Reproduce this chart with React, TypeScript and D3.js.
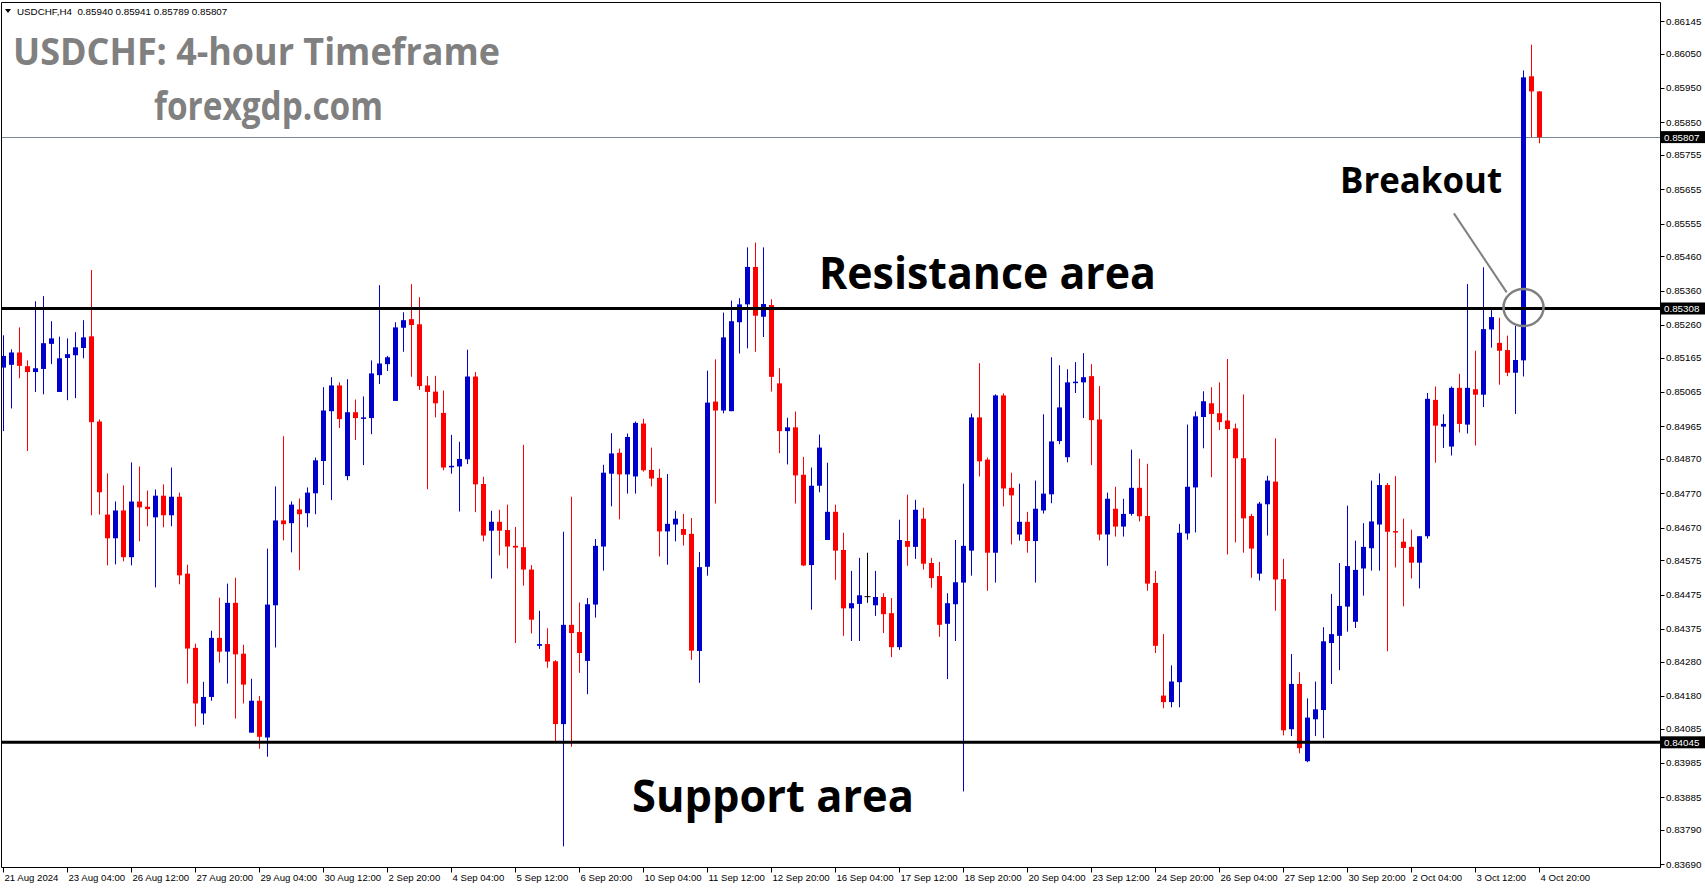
import React from 'react';
import * as d3 from 'd3';

// ---- OHLC data (USDCHF H4) ----
const OPEN = [0.85136,0.85144,0.85180,0.85140,0.85123,0.85132,0.85205,0.85065,0.85164,0.85172,0.85193,0.85227,0.84979,0.84708,0.84639,0.84720,0.84584,0.84746,0.84731,0.84700,0.84763,0.84706,0.84760,0.84536,0.84320,0.84129,0.84177,0.84349,0.84309,0.84451,0.84303,0.84073,0.84166,0.84059,0.84444,0.84691,0.84683,0.84723,0.84712,0.84770,0.84864,0.85009,0.85084,0.84820,0.85006,0.84989,0.84989,0.85114,0.85146,0.85039,0.85252,0.85277,0.85262,0.85084,0.85066,0.85004,0.84846,0.84848,0.84869,0.85110,0.84797,0.84661,0.84687,0.84663,0.84617,0.84613,0.84548,0.84326,0.84331,0.84281,0.84098,0.84387,0.84366,0.84282,0.84446,0.84615,0.84827,0.84888,0.84825,0.84819,0.84973,0.84838,0.84815,0.84659,0.84679,0.84666,0.84652,0.84311,0.84556,0.85037,0.85011,0.85009,0.85268,0.85320,0.85429,0.85284,0.85318,0.85090,0.84951,0.84962,0.84824,0.84561,0.84792,0.84634,0.84716,0.84605,0.84435,0.84448,0.84469,0.84444,0.84468,0.84421,0.84322,0.84631,0.84614,0.84696,0.84567,0.84529,0.84390,0.84447,0.84510,0.84603,0.84991,0.84868,0.84597,0.85055,0.84786,0.84650,0.84687,0.84631,0.84720,0.84767,0.84922,0.84875,0.85091,0.85093,0.85111,0.84985,0.84650,0.84725,0.84673,0.84710,0.84786,0.84704,0.84509,0.84181,0.84162,0.84220,0.84653,0.84787,0.84992,0.85032,0.85003,0.84982,0.84959,0.84872,0.84704,0.84536,0.84738,0.84804,0.84520,0.84083,0.84215,0.83990,0.84112,0.84139,0.84334,0.84355,0.84440,0.84396,0.84551,0.84610,0.84679,0.84794,0.84660,0.84629,0.84614,0.84568,0.84645,0.85042,0.84964,0.84906,0.85077,0.84970,0.85073,0.85057,0.85247,0.85208,0.85187,0.85121,0.85157,0.85984,0.85940];
const HIGH = [0.85230,0.85189,0.85253,0.85157,0.85329,0.85344,0.85271,0.85226,0.85221,0.85239,0.85274,0.85420,0.84985,0.84828,0.84746,0.84793,0.84860,0.84848,0.84778,0.84781,0.84796,0.84845,0.84772,0.84562,0.84332,0.84221,0.84370,0.84466,0.84507,0.84524,0.84329,0.84230,0.84180,0.84609,0.84790,0.84936,0.84746,0.84755,0.84787,0.84874,0.85079,0.85108,0.85093,0.85102,0.85043,0.85052,0.85157,0.85376,0.85170,0.85268,0.85297,0.85379,0.85341,0.85111,0.85112,0.85069,0.84940,0.84920,0.85188,0.85123,0.84818,0.84719,0.84722,0.84737,0.84672,0.84911,0.84561,0.84428,0.84377,0.84284,0.84658,0.84760,0.84452,0.84465,0.84637,0.84853,0.84945,0.84900,0.84944,0.84979,0.84987,0.84903,0.84841,0.84826,0.84719,0.84710,0.84698,0.84599,0.85127,0.85160,0.85296,0.85331,0.85338,0.85486,0.85500,0.85486,0.85335,0.85134,0.84990,0.85008,0.84876,0.84845,0.84941,0.84859,0.84737,0.84655,0.84544,0.84582,0.84597,0.84544,0.84479,0.84465,0.84693,0.84766,0.84751,0.84728,0.84582,0.84570,0.84479,0.84634,0.84798,0.85002,0.85149,0.84874,0.85058,0.85061,0.84830,0.84798,0.84716,0.84807,0.85000,0.85166,0.85143,0.85131,0.85152,0.85178,0.85146,0.85082,0.84772,0.84789,0.84754,0.84897,0.84871,0.84856,0.84544,0.84360,0.84269,0.84681,0.84970,0.85008,0.85067,0.85079,0.85093,0.85161,0.84973,0.85058,0.84710,0.84745,0.84821,0.84930,0.84579,0.84302,0.84249,0.84173,0.84222,0.84380,0.84477,0.84567,0.84734,0.84632,0.84683,0.84807,0.84828,0.84800,0.84820,0.84696,0.84664,0.84645,0.85062,0.85081,0.85000,0.85081,0.85118,0.85379,0.85185,0.85428,0.85304,0.85281,0.85229,0.85257,0.86001,0.86076,0.85941];
const LOW = [0.84951,0.85017,0.85105,0.84893,0.85065,0.85058,0.85146,0.85065,0.85041,0.85047,0.85163,0.84706,0.84708,0.84560,0.84563,0.84572,0.84560,0.84630,0.84674,0.84496,0.84671,0.84674,0.84505,0.84216,0.84091,0.84096,0.84166,0.84277,0.84216,0.84114,0.84158,0.84073,0.84026,0.84003,0.84321,0.84633,0.84598,0.84546,0.84671,0.84709,0.84794,0.84750,0.84960,0.84808,0.84925,0.84852,0.84942,0.85088,0.85126,0.85039,0.85182,0.85109,0.85071,0.84782,0.84991,0.84837,0.84827,0.84717,0.84855,0.84715,0.84630,0.84522,0.84589,0.84551,0.84334,0.84501,0.84362,0.84317,0.84262,0.84047,0.83742,0.84032,0.84247,0.84185,0.84408,0.84545,0.84732,0.84694,0.84769,0.84769,0.84833,0.84790,0.84586,0.84562,0.84630,0.84618,0.84285,0.84218,0.84530,0.84740,0.85003,0.85009,0.85177,0.85192,0.85182,0.85225,0.85066,0.84887,0.84854,0.84740,0.84558,0.84431,0.84773,0.84634,0.84518,0.84355,0.84340,0.84340,0.84451,0.84413,0.84363,0.84293,0.84314,0.84559,0.84579,0.84548,0.84495,0.84352,0.84229,0.84340,0.83902,0.84530,0.84819,0.84486,0.84510,0.84732,0.84621,0.84632,0.84597,0.84510,0.84711,0.84741,0.84913,0.84860,0.85062,0.84989,0.84852,0.84633,0.84559,0.84644,0.84644,0.84705,0.84688,0.84486,0.84305,0.84144,0.84147,0.84147,0.84635,0.84656,0.84901,0.84817,0.84954,0.84592,0.84627,0.84597,0.84524,0.84516,0.84647,0.84428,0.84065,0.84063,0.84013,0.83987,0.84063,0.84057,0.84215,0.84255,0.84367,0.84378,0.84472,0.84545,0.84545,0.84310,0.84554,0.84441,0.84522,0.84493,0.84638,0.84859,0.84902,0.84880,0.84947,0.84944,0.84909,0.85021,0.85194,0.85086,0.85111,0.85001,0.85110,0.85807,0.85789];
const CLOSE = [0.85170,0.85180,0.85141,0.85123,0.85134,0.85207,0.85221,0.85163,0.85175,0.85195,0.85224,0.84977,0.84773,0.84639,0.84720,0.84584,0.84746,0.84729,0.84724,0.84763,0.84706,0.84760,0.84531,0.84318,0.84158,0.84177,0.84349,0.84309,0.84451,0.84301,0.84213,0.84166,0.84061,0.84446,0.84691,0.84680,0.84737,0.84709,0.84772,0.84866,0.85011,0.85084,0.84986,0.85006,0.84989,0.84991,0.85119,0.85148,0.85166,0.85253,0.85274,0.85260,0.85082,0.85065,0.85032,0.84845,0.84850,0.84870,0.85110,0.84796,0.84647,0.84687,0.84661,0.84615,0.84612,0.84548,0.84402,0.84331,0.84280,0.84098,0.84387,0.84363,0.84305,0.84447,0.84617,0.84830,0.84886,0.84825,0.84934,0.84975,0.84837,0.84813,0.84659,0.84681,0.84696,0.84649,0.84312,0.84555,0.85034,0.85011,0.85224,0.85271,0.85320,0.85429,0.85287,0.85321,0.85109,0.84951,0.84962,0.84822,0.84560,0.84792,0.84903,0.84716,0.84603,0.84435,0.84450,0.84473,0.84469,0.84468,0.84418,0.84322,0.84634,0.84614,0.84722,0.84565,0.84523,0.84387,0.84450,0.84511,0.84617,0.84991,0.84863,0.84597,0.85055,0.84784,0.84764,0.84687,0.84631,0.84725,0.84769,0.84921,0.85020,0.85093,0.85095,0.85108,0.84983,0.84650,0.84754,0.84673,0.84710,0.84786,0.84703,0.84507,0.84326,0.84162,0.84222,0.84655,0.84789,0.84994,0.85038,0.85001,0.84977,0.84957,0.84872,0.84697,0.84609,0.84740,0.84807,0.84519,0.84080,0.84215,0.84028,0.84117,0.84141,0.84339,0.84360,0.84442,0.84558,0.84547,0.84614,0.84688,0.84794,0.84658,0.84658,0.84611,0.84568,0.84645,0.85045,0.84967,0.84972,0.85077,0.84972,0.85077,0.85057,0.85248,0.85283,0.85185,0.85121,0.85158,0.85981,0.85940,0.85807];

const PRICE_TICKS = [0.86145,0.86050,0.85950,0.85850,0.85755,0.85655,0.85555,0.85460,0.85360,0.85260,0.85165,0.85065,0.84965,0.84870,0.84770,0.84670,0.84575,0.84475,0.84375,0.84280,0.84180,0.84085,0.83985,0.83885,0.83790,0.83690];
const DATE_LABELS = ['21 Aug 2024','23 Aug 04:00','26 Aug 12:00','27 Aug 20:00','29 Aug 04:00','30 Aug 12:00','2 Sep 20:00','4 Sep 04:00','5 Sep 12:00','6 Sep 20:00','10 Sep 04:00','11 Sep 12:00','12 Sep 20:00','16 Sep 04:00','17 Sep 12:00','18 Sep 20:00','20 Sep 04:00','23 Sep 12:00','24 Sep 20:00','26 Sep 04:00','27 Sep 12:00','30 Sep 20:00','2 Oct 04:00','3 Oct 12:00','4 Oct 20:00'];
const DATE_BARS = [0,8,16,24,32,40,48,56,64,72,80,88,96,104,112,120,128,136,144,152,160,168,176,184,192];

const RESISTANCE = 0.85308;
const SUPPORT = 0.84045;
const LAST_PRICE = 0.85807;
const HEADER = 'USDCHF,H4  0.85940 0.85941 0.85789 0.85807';
const BREAKOUT_BAR = 190;
const POINTER_FROM = { bar: 181.3, price: 0.85585 };
const POINTER_TO = { bar: 187.9, price: 0.85355 };

const BLUE = '#0000cc';
const RED = '#ff0000';
const AXIS_FONT = "'Liberation Sans', Arial, sans-serif";
const BIG_FONT = "'Open Sans', 'Noto Sans', sans-serif";

export default function App() {
  const W = 1705, H = 888;
  const plotRight = 1660.5;
  const plotBottom = 867.5;
  const x = d3.scaleLinear().domain([0, OPEN.length - 1]).range([3.5, 1539.5]);
  const y = d3.scaleLinear().domain([SUPPORT, RESISTANCE]).range([742.3, 308.5]);

  const candles = OPEN.map((o, i) => ({ i, o, h: HIGH[i], l: LOW[i], c: CLOSE[i] }));

  return (
    <svg width={W} height={H} style={{ position: 'absolute', left: 0, top: 0, background: '#fff' }}>
      <defs>
        <clipPath id="plot">
          <rect x={2} y={3} width={plotRight - 2} height={plotBottom - 3} />
        </clipPath>
      </defs>
      <rect x={0} y={0} width={W} height={H} fill="#fff" />

      {/* bid line */}
      <line x1={1} x2={plotRight} y1={Math.round(y(LAST_PRICE)) + 0.5} y2={Math.round(y(LAST_PRICE)) + 0.5} stroke="#778899" strokeWidth={1} />

      <g clipPath="url(#plot)">
        {candles.map(d => {
          const cx = x(d.i);
          const col = d.c > d.o ? BLUE : d.c < d.o ? RED : '#000';
          const top = y(Math.max(d.o, d.c));
          const bot = y(Math.min(d.o, d.c));
          return (
            <g key={d.i}>
              <line x1={cx} x2={cx} y1={y(d.h)} y2={y(d.l)} stroke={col} strokeWidth={1} />
              {d.c === d.o ? (
                <line x1={cx - 3} x2={cx + 3} y1={top} y2={top} stroke={col} strokeWidth={1} />
              ) : (
                <rect x={cx - 2.5} y={top} width={5} height={Math.max(1.5, bot - top)} fill={col} />
              )}
            </g>
          );
        })}
      </g>

      {/* support / resistance */}
      <line x1={1} x2={plotRight} y1={y(RESISTANCE)} y2={y(RESISTANCE)} stroke="#000" strokeWidth={3} />
      <line x1={1} x2={plotRight} y1={y(SUPPORT)} y2={y(SUPPORT)} stroke="#000" strokeWidth={3} />

      {/* frame */}
      <line x1={1.5} x2={1.5} y1={2.5} y2={plotBottom} stroke="#000" />
      <line x1={1.5} x2={plotRight} y1={2.5} y2={2.5} stroke="#000" />
      <line x1={plotRight} x2={plotRight} y1={2.5} y2={plotBottom} stroke="#000" />
      <line x1={1.5} x2={plotRight} y1={plotBottom} y2={plotBottom} stroke="#000" />

      {/* price axis */}
      {PRICE_TICKS.map(v => (
        <g key={v}>
          <line x1={plotRight} x2={plotRight + 4} y1={Math.round(y(v)) + 0.5} y2={Math.round(y(v)) + 0.5} stroke="#000" />
          <text x={1666} y={y(v) + 3.5} fontFamily={AXIS_FONT} fontSize={9.8} fill="#000">{v.toFixed(5)}</text>
        </g>
      ))}
      {[LAST_PRICE, RESISTANCE, SUPPORT].map(v => (
        <g key={'b' + v}>
          <rect x={1661} y={y(v) - 6} width={44} height={12} fill="#000" />
          <text x={1664} y={y(v) + 3.5} fontFamily={AXIS_FONT} fontSize={9.8} fill="#fff">{v.toFixed(5)}</text>
        </g>
      ))}

      {/* time axis */}
      {DATE_LABELS.map((lab, j) => {
        const tx = x(DATE_BARS[j]);
        return (
          <g key={lab}>
            <line x1={tx} x2={tx} y1={plotBottom} y2={plotBottom + 5} stroke="#000" />
            <text x={tx + 1} y={880.5} fontFamily={AXIS_FONT} fontSize={9.6} fill="#000">{lab}</text>
          </g>
        );
      })}

      {/* header */}
      <path d="M5,9 L11,9 L8,13 Z" fill="#000" />
      <text x={17} y={14.5} fontFamily={AXIS_FONT} fontSize={9.8} fill="#000" style={{ whiteSpace: 'pre' }}>{HEADER}</text>

      {/* titles */}
      <text x={13} y={64.5} fontFamily={BIG_FONT} fontWeight={700} fontSize={38} fill="#808080" textLength={487} lengthAdjust="spacingAndGlyphs">USDCHF: 4-hour Timeframe</text>
      <text x={154} y={120} fontFamily={BIG_FONT} fontWeight={700} fontSize={39} fill="#808080" textLength={229} lengthAdjust="spacingAndGlyphs">forexgdp.com</text>

      <text x={819} y={289} fontFamily={BIG_FONT} fontWeight={700} fontSize={45} fill="#000" textLength={337} lengthAdjust="spacingAndGlyphs">Resistance area</text>
      <text x={632} y={812} fontFamily={BIG_FONT} fontWeight={700} fontSize={45} fill="#000" textLength={282} lengthAdjust="spacingAndGlyphs">Support area</text>
      <text x={1340} y={192.5} fontFamily={BIG_FONT} fontWeight={700} fontSize={36} fill="#000" textLength={162} lengthAdjust="spacingAndGlyphs">Breakout</text>

      {/* breakout annotation */}
      <line x1={x(POINTER_FROM.bar)} y1={y(POINTER_FROM.price)} x2={x(POINTER_TO.bar)} y2={y(POINTER_TO.price)} stroke="#808080" strokeWidth={2} />
      <ellipse cx={x(BREAKOUT_BAR)} cy={y(RESISTANCE) - 1} rx={20} ry={18.5} fill="none" stroke="#808080" strokeWidth={2.5} />
    </svg>
  );
}
